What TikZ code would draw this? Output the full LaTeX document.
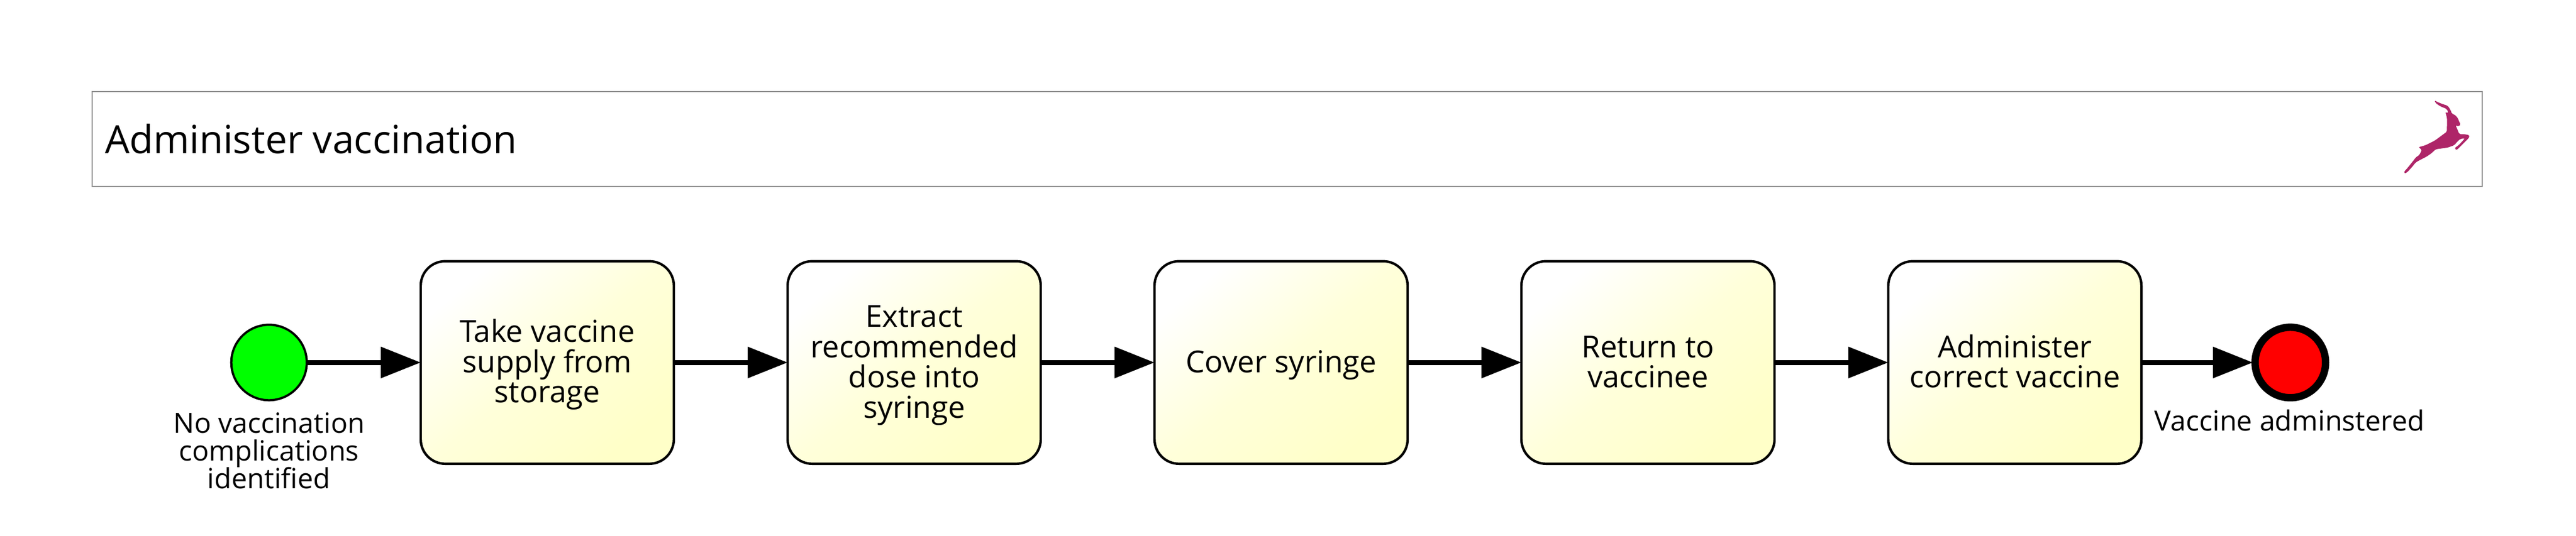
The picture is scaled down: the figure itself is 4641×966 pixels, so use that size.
\documentclass[tikz,border=0pt]{standalone}
\usepackage{fontspec}
\setmainfont{Open Sans}
\usetikzlibrary{arrows.meta}
\definecolor{taskyellow}{HTML}{FFFFC8}
\definecolor{taskmid}{HTML}{FFFFDA}
\definecolor{bannergray}{HTML}{8C8C8C}
\definecolor{logopink}{HTML}{AE2568}
\definecolor{startgreen}{HTML}{00FF00}
\definecolor{endred}{HTML}{FF0000}
\newcommand{\tstrut}{\rule[-.34em]{0pt}{1.34em}}
\setlength{\lineskiplimit}{-1000pt}
\setlength{\normallineskiplimit}{-1000pt}
\tikzset{
  taskbox/.style={draw=black,line width=4.4pt,rounded corners=44pt,minimum width=456pt,minimum height=365pt,
    inner sep=0pt,outer sep=0pt,align=center,top color=white,bottom color=taskyellow,middle color=taskmid,shading angle=40,
    font=\fontsize{54.5}{54.5}\selectfont},
  startev/.style={circle,draw=black,line width=4pt,fill=startgreen,minimum size=136pt,inner sep=0pt,outer sep=0pt},
  endev/.style={circle,draw=black,line width=13.3pt,fill=endred,minimum size=127pt,inner sep=0pt,outer sep=4pt},
  evlabel/.style={align=center,inner sep=0pt,font=\fontsize{50.2}{50}\selectfont},
  flow/.style={draw=black,line width=9pt,-{Triangle[length=72pt,width=54.6pt]}},
  banner/.style={draw=bannergray,line width=2pt,fill=white,inner sep=0pt,minimum width=4306pt,minimum height=171pt},
  titletext/.style={inner sep=0pt,anchor=base west,font=\fontsize{70}{72}\selectfont}
}
\begin{document}
\begin{tikzpicture}[x=1pt,y=-1pt]
\useasboundingbox (0,0) rectangle (4641,966);
\node[banner] (ban) at (2319,250.5) {};
\node[titletext] (ttl) at (189,276.7) {Administer vaccination};
\begin{scope}[shift={(4200,130)},x=0.3333pt,y=-0.3333pt]
\fill[logopink,rounded corners=2pt] (558,153) -- (575,162) -- (600,172) -- (630,182) -- (645,205) -- (652,225) -- (670,232) -- (685,250) -- (692,270) -- (700,283) -- (690,293) -- (672,288) -- (680,305) -- (692,335) -- (720,336) -- (745,340) -- (748,350) -- (735,365) -- (710,390) -- (680,420) -- (672,420) -- (667,410) -- (685,398) -- (705,378) -- (722,358) -- (700,360) -- (685,372) -- (665,395) -- (630,408) -- (565,417) -- (540,440) -- (515,457) -- (470,480) -- (455,490) -- (435,515) -- (410,542) -- (397,548) -- (393,538) -- (402,530) -- (415,515) -- (447,475) -- (455,463) -- (477,447) -- (490,420) -- (472,406) -- (510,395) -- (560,370) -- (625,322) -- (626,250) -- (617,215) -- (630,222) -- (633,215) -- (622,198) -- (590,185) -- (565,168) -- cycle;
\end{scope}
\node[startev] (start) at (484.7,653.3) {};
\node[taskbox] (t1) at (986,653.3) {\tstrut Take vaccine\\supply from\\\tstrut storage};
\node[taskbox] (t2) at (1647,653.3) {\tstrut Extract\\recommended\\dose into\\\tstrut syringe};
\node[taskbox] (t3) at (2308,653.3) {\tstrut Cover syringe};
\node[taskbox] (t4) at (2969,653.3) {\tstrut Return to\\\tstrut vaccinee};
\node[taskbox] (t5) at (3630,653.3) {\tstrut Administer\\\tstrut correct vaccine};
\node[endev] (end) at (4126.3,653.3) {};
\node[evlabel] (lstart) at (484.7,812) {No vaccination\\complications\\identified};
\node[evlabel] (lend) at (4125,757.7) {Vaccine adminstered};
\draw[flow] (start) -- (t1);
\draw[flow] (t1) -- (t2);
\draw[flow] (t2) -- (t3);
\draw[flow] (t3) -- (t4);
\draw[flow] (t4) -- (t5);
\draw[flow] (t5) -- (end);
\end{tikzpicture}
\end{document}
